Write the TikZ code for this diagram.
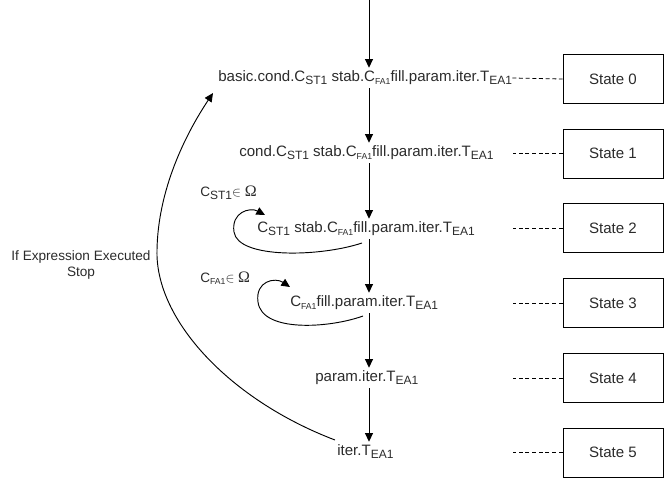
\documentclass[tikz,border=0pt]{standalone}
\usepackage{fontspec}
\setmainfont{Liberation Sans}
\newfontfamily\omegafont{Liberation Serif}
\usetikzlibrary{arrows.meta}
% subscripts: regular and small
\newcommand{\subA}[1]{\raisebox{-0.4ex}{\fontsize{9}{10}\selectfont #1}}
\newcommand{\subB}[1]{\raisebox{-0.3ex}{\fontsize{6.5}{7}\selectfont #1}}
\newcommand{\CST}{C\subA{ST1}}
\newcommand{\CFA}{C\subB{FA1}}
\newcommand{\TEA}{T\subA{EA1}}
\newcommand{\Om}{{\omegafont\fontsize{12}{13}\selectfont Ω}}
\definecolor{ink}{HTML}{2B2B2B}
\begin{document}
\begin{tikzpicture}[x=0.75pt,y=-0.75pt,
  expr/.style={inner sep=0pt,text=ink,font=\fontsize{11.3}{13}\selectfont,text height=8pt,text depth=2.5pt,minimum height=15pt},
  statebox/.style={draw,line width=0.7pt,text=ink,minimum width=75pt,minimum height=36.75pt,inner sep=0pt,font=\fontsize{11.3}{13}\selectfont},
  flow/.style={-{Triangle[length=6.5pt,width=6pt]},line width=0.7pt},
  link/.style={dash pattern=on 3pt off 2pt,line width=0.6pt},
  note/.style={inner sep=0pt,text=ink,font=\fontsize{10.2}{12.5}\selectfont,align=center}]
\useasboundingbox (0,0) rectangle (669,479);

% expression chain
\node[expr,anchor=west] (s0) at (218,78) {basic.cond.\CST{} stab.\CFA fill.param.iter.\TEA};
\node[expr,anchor=west] (s1) at (239,153) {cond.\CST{} stab.\CFA fill.param.iter.\TEA};
\node[expr,anchor=west] (s2) at (257,229) {\CST{} stab.\CFA fill.param.iter.\TEA};
\node[expr,anchor=west] (s3) at (290,303) {\CFA fill.param.iter.\TEA};
\node[expr,anchor=west] (s4) at (315,378) {param.iter.\TEA};
\node[expr,anchor=west] (s5) at (337,452) {iter.\TEA};

% state boxes
\foreach \i/\y in {0/79,1/153.5,2/228,3/303,4/378,5/452.5}
  \node[statebox] (st\i) at (613,\y) {State \i};

% dashed links
\draw[link] (s0.east) -- (st0.west);
\foreach \i in {1,...,5}
  \draw[link] (st\i.west) -- ([xshift=-37.5pt]st\i.west);

% main vertical flow
\coordinate (spine) at (369,0);
\draw[flow] (spine) -- (s0.north -| spine);
\draw[flow] (s0.south -| spine) -- (s1.north -| spine);
\draw[flow] (s1.south -| spine) -- (s2.north -| spine);
\draw[flow] (s2.south -| spine) -- (s3.north -| spine);
\draw[flow] (s3.south -| spine) -- (s4.north -| spine);
\draw[flow] (s4.south -| spine) -- (s5.north -| spine);

% self loops
\coordinate (l2a) at (362,243);
\coordinate (l2b) at (265,215);
\draw[flow] (l2a) .. controls (320,257) and (238,259) .. (234,232)
  .. controls (231,212) and (250,207) .. (l2b);
\node[note,anchor=west] (c2) at (200,193) {\CST$\in$ \Om};

\coordinate (l3a) at (363,316);
\coordinate (l3b) at (290,287);
\draw[flow] (l3a) .. controls (330,328) and (262,333) .. (258,302)
  .. controls (255,281) and (275,277) .. (l3b);
\node[note,anchor=west] (c3) at (200,278) {\CFA$\in$ \Om};

% return arc
\coordinate (ra) at (335,440);
\coordinate (rb) at (213,93);
\draw[flow] (ra) .. controls (230,400) and (155,320) .. (157,250)
  .. controls (158,190) and (185,135) .. (rb);
\node[note] (stop) at (81,265) {If Expression Executed\\Stop};
\end{tikzpicture}
\end{document}
